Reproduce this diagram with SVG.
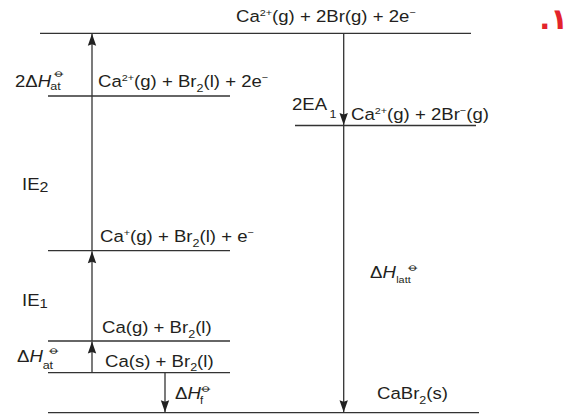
<svg xmlns="http://www.w3.org/2000/svg" width="578" height="415" viewBox="0 0 578 415">
<style>
.t{font-family:"Liberation Sans",Arial,Helvetica,sans-serif;font-size:16.3px;fill:#231f20}
.sup{font-size:9.5px}
.sub{font-size:11px}
.it{font-style:italic}
.std{font-family:"DejaVu Sans",sans-serif;font-size:13px}
.lv{stroke:#333;stroke-width:1.3;fill:none}
.ar{stroke:#333;stroke-width:1.3;fill:none;marker-end:url(#ah)}
.red{font-family:"DejaVu Sans",sans-serif;font-weight:bold;font-size:29px;fill:#e3232b}
</style>
<defs>
<marker id="ah" markerUnits="userSpaceOnUse" viewBox="-13 -5 14 10" refX="0" refY="0" markerWidth="14" markerHeight="10" orient="auto">
<path d="M0,0 L-12,-4.2 L-10.5,0 L-12,4.2 Z" fill="#222"/>
</marker>
</defs>
<g id="levels">
<g id="lvl-top"><line class="lv" x1="40" y1="33.3" x2="471" y2="33.3"/><text class="t" transform="translate(236,22) scale(1.14,1)">Ca<tspan class="sup" dy="-6">2+</tspan><tspan dy="6">(g) + 2Br(g) + 2e</tspan><tspan class="sup" dy="-6">−</tspan></text></g>
<g id="lvl-ca2-br2"><line class="lv" x1="48" y1="96" x2="230" y2="96"/><text class="t" transform="translate(98,87) scale(1.14,1)">Ca<tspan class="sup" dy="-6">2+</tspan><tspan dy="6">(g) + Br</tspan><tspan class="sub" dy="5">2</tspan><tspan dy="-5">(l) + 2e</tspan><tspan class="sup" dy="-6">−</tspan></text></g>
<g id="lvl-ca2-br-"><line class="lv" x1="295" y1="125.5" x2="476" y2="125.5"/><text class="t" transform="translate(351,120) scale(1.14,1)">Ca<tspan class="sup" dy="-6">2+</tspan><tspan dy="6">(g) + 2Br</tspan><tspan class="sup" dy="-6">−</tspan><tspan dy="6">(g)</tspan></text></g>
<g id="lvl-ca+"><line class="lv" x1="48" y1="250.7" x2="230" y2="250.7"/><text class="t" transform="translate(100,241.7) scale(1.14,1)">Ca<tspan class="sup" dy="-6">+</tspan><tspan dy="6">(g) + Br</tspan><tspan class="sub" dy="5">2</tspan><tspan dy="-5">(l) + e</tspan><tspan class="sup" dy="-6">−</tspan></text></g>
<g id="lvl-cag"><line class="lv" x1="48" y1="341" x2="230" y2="341"/><text class="t" transform="translate(102,333) scale(1.14,1)">Ca(g) + Br<tspan class="sub" dy="5">2</tspan><tspan dy="-5">(l)</tspan></text></g>
<g id="lvl-cas"><line class="lv" x1="48" y1="372.7" x2="230" y2="372.7"/><text class="t" transform="translate(105,366.7) scale(1.14,1)">Ca(s) + Br<tspan class="sub" dy="4">2</tspan><tspan dy="-4">(l)</tspan></text></g>
<g id="lvl-cabr2"><line class="lv" x1="48" y1="412.7" x2="479" y2="412.7"/><text class="t" transform="translate(377,399) scale(1.14,1)">CaBr<tspan class="sub" dy="5">2</tspan><tspan dy="-5">(s)</tspan></text></g>
</g>
<g id="connectors">
<line class="ar" x1="92" y1="372.7" x2="92" y2="341.5"/>
<line class="ar" x1="92" y1="341" x2="92" y2="251.2"/>
<line class="ar" x1="92" y1="250.7" x2="92" y2="33.8"/>
<line class="ar" x1="343.7" y1="33.3" x2="343.7" y2="125"/>
<line class="ar" x1="343.7" y1="125.5" x2="343.7" y2="412.2"/>
<line class="ar" x1="165" y1="372.7" x2="165" y2="412.2"/>
</g>
<g id="labels">
<text id="lab-2hat" class="t" transform="translate(15,87.3) scale(1.14,1)">2Δ<tspan class="it">H</tspan><tspan class="sub" x="31" y="3">at</tspan><tspan class="std" x="33" y="-10.8">⦵</tspan></text>
<text id="lab-2ea" class="t" transform="translate(292,110) scale(1.14,1)">2EA<tspan class="sub" dx="2" dy="8">1</tspan></text>
<text id="lab-ie2" class="t" transform="translate(22,190) scale(1.14,1)">IE<tspan class="sub" dy="2" style="font-size:14px">2</tspan></text>
<text id="lab-hlatt" class="t" transform="translate(370,278.3) scale(1.14,1)">Δ<tspan class="it">H</tspan><tspan class="sub" x="23" y="4.7" style="font-size:9.5px">latt</tspan><tspan class="std" x="32.5" y="-7.6">⦵</tspan></text>
<text id="lab-ie1" class="t" transform="translate(22,306) scale(1.14,1)">IE<tspan class="sub" dy="2" style="font-size:13px">1</tspan></text>
<text id="lab-hat" class="t" transform="translate(17,362.3) scale(1.14,1)">Δ<tspan class="it">H</tspan><tspan class="sub" x="22.5" y="6.3">at</tspan><tspan class="std" x="27" y="-7.9">⦵</tspan></text>
<text id="lab-hf" class="t" transform="translate(175,399) scale(1.14,1)">Δ<tspan class="it">H</tspan><tspan class="sub" x="22" y="5" style="font-size:10px">f</tspan><tspan class="std" x="21.5" y="-7.5">⦵</tspan></text>
<text id="num" class="red" x="568" y="29" direction="rtl" unicode-bidi="embed" text-anchor="start">١.</text>
</g>
</svg>
